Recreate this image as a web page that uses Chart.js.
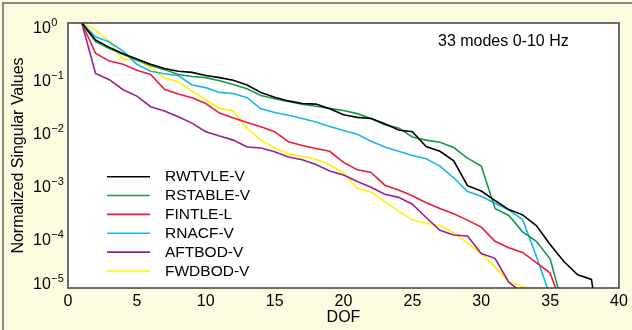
<!DOCTYPE html>
<html><head><meta charset="utf-8">
<script src="https://cdn.jsdelivr.net/npm/chart.js@4.4.1/dist/chart.umd.min.js"></script>
<style>html,body{margin:0;padding:0;background:#fdfbe0;overflow:hidden}#wrap{width:632px;height:330px;position:relative}</style>
</head><body><div id="wrap"><canvas id="c" width="632" height="330"></canvas></div>
<script>
// ---- data ----
const dof = [1,2,3,4,5,6,7,8,9,10,11,12,13,14,15,16,17,18,19,20,21,22,23,24,25,26,27,28,29,30,31,32,33,34,35,36,37,38,39];
const seriesNames = ['RWTVLE-V','RSTABLE-V','FINTLE-L','RNACF-V','AFTBOD-V','FWDBOD-V'];
const rwtvle = [1,0.479,0.347,0.263,0.209,0.166,0.138,0.123,0.117,0.102,0.0933,0.0832,0.0676,0.049,0.0398,0.0339,0.0302,0.0295,0.024,0.0186,0.0166,0.0158,0.0126,0.00955,0.00891,0.00468,0.0038,0.00251,8.51e-4,6.76e-4,4.47e-4,3.02e-4,2.4e-4,1.51e-4,6.61e-5,3.16e-5,1.78e-5,1.45e-5,3e-7];
const rstable = [1,0.447,0.331,0.257,0.2,0.158,0.132,0.107,0.0977,0.0933,0.0813,0.0692,0.0575,0.0427,0.0372,0.0331,0.0295,0.0269,0.0245,0.0224,0.0195,0.0158,0.012,0.0105,0.00708,0.00617,0.00562,0.00447,0.00282,0.002,3.16e-4,2.34e-4,1.15e-4,7.59e-5,3.55e-5,4.0e-6,null,null,null];
const fintle = [1,0.269,0.191,0.166,0.129,0.107,0.0562,0.0457,0.0389,0.0302,0.02,0.0162,0.0132,0.011,0.00891,0.00575,0.0049,0.00427,0.0038,0.00234,0.0017,0.00151,8.71e-4,7.08e-4,5.5e-4,4.07e-4,3.16e-4,2.51e-4,1.91e-4,1.41e-4,7.59e-5,5.75e-5,4.68e-5,3.02e-5,1.91e-5,3.8e-6,null,null,null];
const rnacf = [1,0.55,0.437,0.295,0.166,0.123,0.11,0.102,0.0676,0.0603,0.049,0.0468,0.0389,0.024,0.0204,0.0182,0.0158,0.0135,0.0112,0.00933,0.00794,0.00589,0.00457,0.0038,0.00316,0.00275,0.002,0.0012,6.61e-4,5.37e-4,3.98e-4,2.95e-4,1.95e-4,3.98e-5,7.08e-6,null,null,null,null];
const aftbod = [1,0.112,0.0851,0.055,0.0417,0.0263,0.0219,0.017,0.0129,0.00891,0.00741,0.00617,0.00457,0.00437,0.00372,0.00295,0.00263,0.00214,0.00162,0.00135,0.00102,7.94e-4,5.89e-4,5.13e-4,3.8e-4,2.14e-4,1.23e-4,1.0e-4,9.55e-5,4.47e-5,3.63e-5,1.29e-5,7.94e-6,null,null,null,null,null,null];
const fwdbod = [1,0.741,0.447,0.204,0.2,0.145,0.0912,0.0776,0.0525,0.0355,0.0245,0.0219,0.0102,0.00617,0.00437,0.00339,0.00302,0.00269,0.00209,0.00148,7.59e-4,6.46e-4,4.27e-4,2.82e-4,1.91e-4,1.66e-4,1.51e-4,1.1e-4,7.08e-5,4.47e-5,2.51e-5,1.29e-5,1.07e-5,8.71e-6,null,null,null,null,null];
const yTickExponents = [0,-1,-2,-3,-4,-5];
const xTickValues = [0,5,10,15,20,25,30,35,40];
const annotationText = '33 modes 0-10 Hz';
const xTitle = 'DOF';
const yTitle = 'Normalized Singular Values';

// ---- styles ----
const colors = ['#000000','#129c47','#ec1c3b','#1ab4ef','#9c1f8d','#fff200'];
const allValues = [rwtvle, rstable, fintle, rnacf, aftbod, fwdbod];
const FONT = '"Liberation Sans", Arial, Helvetica, sans-serif';

const datasets = allValues.map((vals, i) => ({
  label: seriesNames[i],
  data: dof.map((d, k) => ({x: d, y: vals[k]})).filter(p => p.y !== null),
  borderColor: colors[i],
  backgroundColor: colors[i],
  borderWidth: 1.6,
  pointRadius: 0,
  tension: 0,
  fill: false
}));

const decor = {
  id: 'decor',
  beforeDraw(chart) {
    const ctx = chart.ctx, a = chart.chartArea;
    ctx.save();
    ctx.fillStyle = '#fdfbe0';
    ctx.fillRect(0, 0, chart.width, chart.height);
    ctx.fillStyle = '#ffffff';
    ctx.fillRect(a.left, a.top, a.right - a.left, a.bottom - a.top);
    ctx.strokeStyle = '#8a8a8a';
    ctx.lineWidth = 2;
    ctx.beginPath();
    ctx.moveTo(3, chart.height); ctx.lineTo(3, 3); ctx.lineTo(chart.width, 3);
    ctx.stroke();
    ctx.restore();
  },
  afterDraw(chart) {
    const ctx = chart.ctx, a = chart.chartArea;
    const ys = chart.scales.y;
    ctx.save();
    ctx.strokeStyle = '#3c3c3c';
    ctx.lineWidth = 1.5;
    ctx.strokeRect(a.left, a.top, a.right - a.left, a.bottom - a.top);
    ctx.fillStyle = '#000';
    ctx.textAlign = 'left';
    ctx.textBaseline = 'alphabetic';
    yTickExponents.forEach(e => {
      const py = ys.getPixelForValue(Math.pow(10, e));
      const base = Math.min(py + 9.5, a.bottom + 0.5);
      ctx.font = '16px ' + FONT;
      ctx.fillText('10', 33, base);
      const w = ctx.measureText('10').width;
      ctx.font = '11px ' + FONT;
      ctx.fillText(e === 0 ? '0' : '\u2212' + (-e), 33 + w + 0.5, base - 7);
    });
    ctx.save();
    ctx.translate(19, (a.top + a.bottom) / 2);
    ctx.rotate(-Math.PI / 2);
    ctx.font = '16px ' + FONT;
    ctx.textAlign = 'center';
    ctx.textBaseline = 'middle';
    ctx.fillText(yTitle, 0, 0);
    ctx.restore();
    ctx.font = '16px ' + FONT;
    ctx.textAlign = 'left';
    ctx.textBaseline = 'middle';
    ctx.fillText(annotationText, 438, 42);
    ctx.font = '15.5px ' + FONT;
    const lx0 = 107, lx1 = 150, tx = 165, ly0 = 176.7, dy = 18.85;
    chart.data.datasets.forEach((ds, i) => {
      const y = ly0 + i * dy;
      ctx.strokeStyle = ds.borderColor;
      ctx.lineWidth = 1.6;
      ctx.beginPath(); ctx.moveTo(lx0, y); ctx.lineTo(lx1, y); ctx.stroke();
      ctx.fillStyle = '#000';
      ctx.fillText(ds.label, tx, y + 0.5);
    });
    ctx.restore();
  }
};

new Chart(document.getElementById('c'), {
  type: 'line',
  data: { datasets },
  options: {
    responsive: false,
    animation: false,
    devicePixelRatio: 1,
    layout: { padding: { top: 23, right: 13, left: 0, bottom: 0 } },
    plugins: { legend: { display: false }, tooltip: { enabled: false } },
    scales: {
      x: {
        type: 'linear', min: 0, max: 40,
        afterBuildTicks: s => { s.ticks = xTickValues.map(v => ({value: v})); },
        afterFit: s => { s.height = 42; },
        grid: { display: false, drawTicks: false },
        border: { display: false },
        ticks: { color: '#000', font: { family: FONT, size: 16 }, padding: 4, maxRotation: 0 },
        title: { display: true, text: xTitle, color: '#000', font: { family: FONT, size: 16 }, padding: { top: 0, bottom: 3 } }
      },
      y: {
        type: 'logarithmic', min: 1e-5, max: 1,
        afterBuildTicks: s => { s.ticks = yTickExponents.map(e => ({value: Math.pow(10, e)})); },
        afterFit: s => { s.width = 68; },
        grid: { display: false, drawTicks: false },
        border: { display: false },
        ticks: { display: false }
      }
    }
  },
  plugins: [decor]
});
</script></body></html>
